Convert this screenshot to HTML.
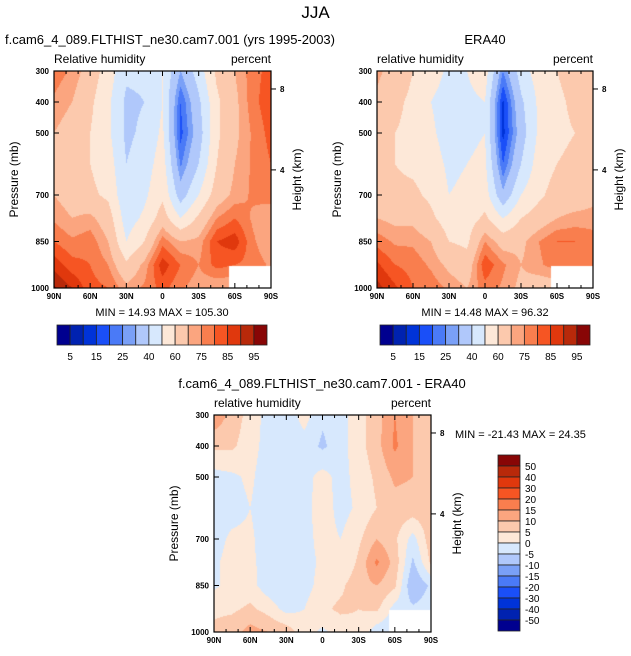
<!DOCTYPE html>
<html><head><meta charset="utf-8">
<style>
body{margin:0;background:#fff;width:631px;height:656px;position:relative;overflow:hidden;font-family:"Liberation Sans",sans-serif;color:#000}
.t{position:absolute;white-space:nowrap;line-height:1}
canvas{position:absolute}
svg{position:absolute;left:0;top:0}
</style></head><body>
<div class="t" style="left:0;width:631px;text-align:center;top:4px;font-size:17px">JJA</div>
<div class="t" style="left:5px;top:33px;font-size:13px">f.cam6_4_089.FLTHIST_ne30.cam7.001 (yrs 1995-2003)</div>
<div class="t" style="left:377px;width:216px;text-align:center;top:33px;font-size:13px">ERA40</div>
<div class="t" style="left:130px;width:384px;text-align:center;top:377px;font-size:13px">f.cam6_4_089.FLTHIST_ne30.cam7.001 - ERA40</div>
<div id="root"></div>
<svg id="ov" width="631" height="656"></svg>
<script>
const lats=["90N","75N","60N","45N","30N","15N","0","15S","30S","45S","60S","75S","90S"];
const presLevels=[300,400,500,600,700,775,850,925,1000];
const modelRH=[
[78,74,66,55,42,42,50,30,45,62,70,78,82],
[74,70,62,52,38,40,50,20,38,58,68,78,84],
[70,66,60,52,38,42,52,18,35,58,68,76,82],
[68,64,60,55,40,45,55,24,40,60,70,76,80],
[70,66,62,58,42,48,58,35,50,65,72,76,78],
[74,70,72,65,45,52,65,50,62,75,80,74,70],
[80,76,78,70,50,60,78,70,72,85,88,76,70],
[88,82,80,75,62,72,88,80,75,82,80,78,74],
[96,90,82,80,72,76,82,76,72,70,70,70,70]];
const eraRH=[
[72,66,60,55,48,50,55,25,45,55,60,64,68],
[68,62,58,50,45,48,50,14,38,52,58,62,68],
[64,60,58,52,45,48,50,13,35,52,58,60,66],
[62,60,58,55,48,50,52,20,40,55,60,62,66],
[64,62,62,58,50,52,55,32,50,58,64,65,68],
[70,68,68,62,55,55,62,50,60,65,70,72,72],
[78,74,74,70,60,58,75,66,68,75,80,80,78],
[86,80,78,74,68,64,84,76,70,74,78,80,78],
[92,86,80,78,74,70,78,74,68,65,65,65,65]];
const diffRH=[
[14,8,3,-2,-3,2,-4,-2,3,8,15,10,5],
[6,6,2,-2,-3,-2,-6,-2,3,8,16,10,6],
[-2,-1,1,-3,-3,-2,2,-2,2,6,11,10,8],
[-2,-2,0,-3,-4,-2,3,-2,1,5,8,8,8],
[-2,1,1,-3,-4,-2,2,0,4,10,6,-2,8],
[-1,2,1,-2,-4,-2,1,0,6,16,8,-6,6],
[-1,2,2,-3,-5,-2,2,4,8,10,6,-10,-4],
[4,4,6,3,-2,0,4,6,5,6,-2,-4,-2],
[6,8,12,10,8,2,-1,2,4,-3,-3,-3,-3]];
const rhLevels=[5,10,15,20,25,30,40,50,60,70,75,80,85,90,95];
const rhLabels=["5","15","25","40","60","75","85","95"];
const dLevels=[-50,-40,-30,-20,-15,-10,-5,0,5,10,15,20,30,40,50];
const colors=["#00008f","#0022b0","#0033d8","#1a4ff8","#4a7af7","#7aa0f7","#b0c8fb","#d7e8fd","#fde8d8","#fcc9ad","#fba57f","#f97e4e","#f65523","#e0380d","#b8290a","#880606"];
const xLabels=["90N","60N","30N","0","30S","60S","90S"];

const SVGNS="http://www.w3.org/2000/svg";
const ov=document.getElementById('ov');
function sv(tag,attrs){const e=document.createElementNS(SVGNS,tag);for(const k in attrs)e.setAttribute(k,attrs[k]);ov.appendChild(e);return e;}
function txt(x,y,s,size,anchor,name,extra){const e=sv('text',{x:x,y:y,'font-size':size,'text-anchor':anchor||'start','font-family':'Liberation Sans, sans-serif'});e.textContent=s;if(extra)for(const k in extra)e.setAttribute(k,extra[k]);return e;}
function colorIdx(v,lev){let i=0;while(i<lev.length&&v>=lev[i])i++;return i;}

function panel(px,py,W,H,grid,lev,opts){
  const xs=v=>px+(v/180)*W;
  const ys=p=>py+(p-300)/700*H;
  const cv=document.createElement('canvas');
  cv.width=W;cv.height=H;cv.style.left=px+'px';cv.style.top=py+'px';
  
  
  document.getElementById('root').appendChild(cv);
  const ctx=cv.getContext('2d');
  for(let j=0;j<H;j++){
    const p=300+(j+0.5)/H*700;
    let r=0;while(r<presLevels.length-2&&p>presLevels[r+1])r++;
    const fy=(p-presLevels[r])/(presLevels[r+1]-presLevels[r]);
    for(let i=0;i<W;i++){
      const d=(i+0.5)/W*180;const c=Math.min(11,Math.floor(d/15));const fx=d/15-c;
      const v=(1-fy)*((1-fx)*grid[r][c]+fx*grid[r][c+1])+fy*((1-fx)*grid[r+1][c]+fx*grid[r+1][c+1]);
      ctx.fillStyle=colors[colorIdx(v,lev)];ctx.fillRect(i,j,1,1);
    }
  }
  ctx.fillStyle='#fff';ctx.fillRect(Math.round((145/180)*W),Math.round((930-300)/700*H),W,H);
  sv('rect',{x:px,y:py,width:W,height:H,fill:'none',stroke:'#000','stroke-width':1.2,});
  for(let d=0;d<=180;d+=10){const x=xs(d);const maj=d%30===0;const L=maj?5:3;
    sv('line',{x1:x,y1:py,x2:x,y2:py+L,stroke:'#000','stroke-width':1});
    sv('line',{x1:x,y1:py+H,x2:x,y2:py+H-L,stroke:'#000','stroke-width':1});}
  xLabels.forEach((s,k)=>txt(xs(k*30),py+H+11,s,8,'middle','x-tick-label',{'font-weight':'bold'}));
  [300,400,500,700,850,1000].forEach(p=>{const y=ys(p);sv('line',{x1:px,y1:y,x2:px+5,y2:y,stroke:'#000'});txt(px-5,y+3,String(p),8,'end','y-tick-label',{'font-weight':'bold'});});
  [[8,358],[4,619]].forEach(h=>{const y=ys(h[1]);sv('line',{x1:px+W,y1:y,x2:px+W+5,y2:y,stroke:'#000'});txt(px+W+9,y+3,String(h[0]),8,'start','height-tick-label',{'font-weight':'bold'});});
  txt(px,py-8,opts.left,12,'start','field-label');
  txt(px+W,py-8,'percent',12,'end','units-label');
  txt(px-36,py+H/2,'Pressure (mb)',12,'middle','y-axis-title',{transform:`rotate(-90 ${px-36} ${py+H/2})`});
  txt(px+W+30,py+H/2,'Height (km)',12,'middle','height-axis-title',{transform:`rotate(-90 ${px+W+30} ${py+H/2})`});
}
panel(54,71,217,217,modelRH,rhLevels,{name:'model',left:'Relative humidity'});
panel(377,71,216,217,eraRH,rhLevels,{name:'era40',left:'relative humidity'});
panel(214,415,217,217,diffRH,dLevels,{name:'diff',left:'relative humidity'});
txt(162,316,'MIN =  14.93  MAX = 105.30',11,'middle','model-min-max');
txt(485,316,'MIN =  14.48  MAX = 96.32',11,'middle','era40-min-max');
txt(455,438,'MIN = -21.43  MAX = 24.35',11,'start','diff-min-max');

function hbar(x0,y0,name){
  const w=210/16;
  colors.forEach((c,k)=>{const r=sv('rect',{x:x0+k*w,y:y0,width:w,height:20,fill:c,stroke:'#222','stroke-width':0.8});});
  rhLabels.forEach((s,k)=>txt(x0+(1+2*k)*w,y0+35,s,10,'middle',name+'-label'));
}
hbar(57,325,'model-colorbar');
hbar(380,325,'era40-colorbar');
const bh=176/16;
colors.slice().reverse().forEach((c,k)=>{const r=sv('rect',{x:498,y:455+k*bh,width:22,height:bh,fill:c,stroke:'#222','stroke-width':0.8});});
dLevels.slice().reverse().forEach((v,k)=>txt(525,455+(k+1)*bh+4,String(v),10,'start','diff-colorbar-label'));
</script>
</body></html>
